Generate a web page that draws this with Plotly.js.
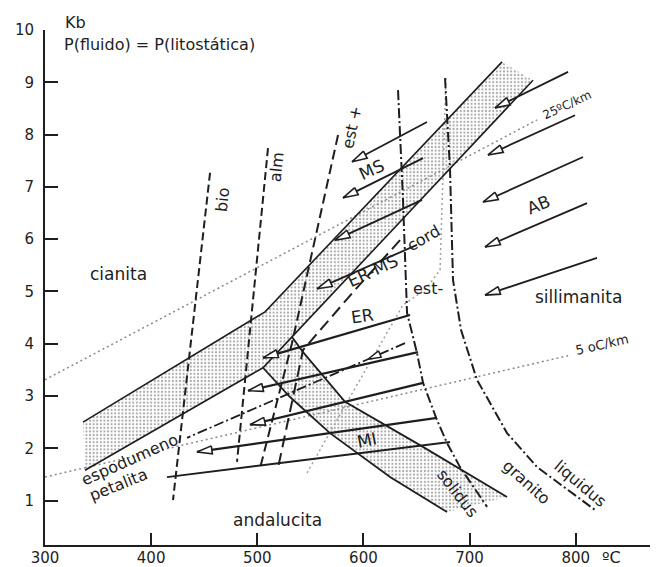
<!DOCTYPE html>
<html><head><meta charset="utf-8">
<script src="https://cdn.plot.ly/plotly-3.0.1.min.js"></script>
<style>html,body{margin:0;padding:0;background:#fff}</style>
</head><body><div id="chart" style="width:656px;height:567px"></div>
<script>
// ---------------- data (T in ºC, P in kb) ----------------
const tickT = [300, 400, 500, 600, 700, 800];
const tickTLabels = ['300', '400', '500', '600', '700', '800'];
const tickP = [1, 2, 3, 4, 5, 6, 7, 8, 9, 10];

// stippled pegmatite field
const bandUpperT = [335.8, 507.3, 730.6];
const bandUpperP = [2.50, 4.61, 9.39];
const bandLowerT = [337.7, 505.4, 532.7, 759.8];
const bandLowerP = [1.58, 3.54, 4.13, 9.04];
const miUpperT = [532.7, 543.1, 582.7, 653.3, 735.3];
const miUpperP = [4.13, 3.84, 2.89, 2.06, 1.07];
const miLowerT = [505.4, 530.8, 568.5, 625.1, 678.8];
const miLowerP = [3.54, 2.98, 2.29, 1.45, 0.78];

// dashed reaction curves
const bioT = [455.5, 420.6];
const bioP = [7.27, 1.01];
const almT = [510.1, 480.9];
const almP = [7.74, 1.74];
const estPlusT = [576.1, 532.7, 502.6];
const estPlusP = [7.99, 4.01, 1.62];
const cordT = [634.5, 592.1, 543.1, 519.5];
const cordP = [5.98, 5.03, 3.88, 1.62];
const estMinusT = [677.8, 675.0, 672.2, 658.0, 637.3, 587.4, 546.9];
const estMinusP = [9.08, 7.13, 5.41, 5.03, 4.74, 2.98, 1.53];

// granite solidus / liquidus
const solidusT = [632.6, 637.3, 641.1, 650.5, 656.2, 669.3, 678.8, 691.0, 716.5];
const solidusP = [8.85, 6.75, 4.59, 3.82, 3.25, 2.54, 2.10, 1.64, 0.88];
const liquidusT = [676.9, 681.6, 684.4, 692.0, 707.0, 735.3, 763.6, 818.2];
const liquidusP = [9.08, 7.32, 5.22, 4.26, 3.31, 2.29, 1.64, 0.82];

// geotherms
const geo25T = [300, 763.6];
const geo25P = [3.31, 8.28];
const geo5T = [300, 794.7];
const geo5P = [1.45, 3.78];

// P-T paths (arrows) : start -> end (arrow tip)
const arrowStartT = [792.8, 799.4, 806.9, 810.7, 820.1, 659.9, 656.2, 655.2, 650.5, 643.9, 651.4, 656.2, 669.3];
const arrowStartP = [9.20, 8.37, 7.57, 6.69, 5.64, 8.24, 7.55, 6.75, 5.89, 4.55, 3.84, 3.25, 2.58];
const arrowEndT   = [724.0, 717.4, 712.7, 714.6, 714.6, 589.3, 580.8, 573.2, 556.3, 505.4, 491.3, 493.2, 443.2];
const arrowEndP   = [8.51, 7.61, 6.71, 5.85, 4.93, 7.48, 6.79, 5.98, 5.05, 3.73, 3.10, 2.45, 1.93];
const baseLineT = [681.6, 414.9];
const baseLineP = [2.12, 1.45];
const dashPathT = [639.2, 433.8];
const dashPathP = [4.01, 2.20];

// ---------------- geometry helpers ----------------
const X0 = 300, X1 = 870, Y0 = 0.15, Y1 = 10.0;
const L = 45, R = 650, TOP = 30, BOT = 545;
function toPx(T, P) { return [L + (T - X0) / (X1 - X0) * (R - L), BOT - (P - Y0) / (Y1 - Y0) * (BOT - TOP)]; }
function toData(x, y) { return [X0 + (x - L) / (R - L) * (X1 - X0), Y0 + (BOT - y) / (BOT - TOP) * (Y1 - Y0)]; }
function headAt(sT, sP, eT, eP, len, half) {
  const s = toPx(sT, sP), e = toPx(eT, eP);
  let dx = e[0] - s[0], dy = e[1] - s[1];
  const d = Math.hypot(dx, dy); dx /= d; dy /= d;
  const bx = e[0] - dx * len, by = e[1] - dy * len;
  const nx = -dy, ny = dx;
  const pts = [[bx + nx * half, by + ny * half], [e[0], e[1]], [bx - nx * half, by - ny * half], [bx + nx * half, by + ny * half]];
  const dd = pts.map(p => toData(p[0], p[1]));
  return { x: dd.map(p => p[0]), y: dd.map(p => p[1]) };
}

const INK = '#1e1e1e';
const traces = [];

// stippled field polygon
const polyT = [].concat(bandUpperT, bandLowerT.slice(2).reverse(), miUpperT.slice(1), miLowerT.slice().reverse(), [bandLowerT[0], bandUpperT[0]]);
const polyP = [].concat(bandUpperP, bandLowerP.slice(2).reverse(), miUpperP.slice(1), miLowerP.slice().reverse(), [bandLowerP[0], bandUpperP[0]]);
traces.push({ x: polyT, y: polyP, mode: 'lines', fill: 'toself', line: { width: 0, color: 'rgba(0,0,0,0)' },
  fillcolor: 'rgba(0,0,0,0)', fillpattern: { shape: '.', fgcolor: '#a8a8a8', bgcolor: '#ffffff', size: 3.6, solidity: 0.28 }, hoverinfo: 'skip' });

function line(x, y, color, width, dash) {
  traces.push({ x: x, y: y, mode: 'lines', line: { color: color, width: width, dash: dash || 'solid' }, hoverinfo: 'skip' });
}
// geotherms (dotted)
line(geo25T, geo25P, '#8a8a8a', 1.5, '2px,3px');
line(geo5T, geo5P, '#8a8a8a', 1.5, '2px,3px');
line(estMinusT, estMinusP, '#a0a0a0', 1.5, '2px,3px');

// band outlines
line(bandUpperT, bandUpperP, INK, 1.6);
line(bandLowerT, bandLowerP, INK, 1.6);
line(miUpperT, miUpperP, INK, 1.8);
line(miLowerT, miLowerP, INK, 1.8);

// dashed curves
line(bioT, bioP, INK, 2, '8px,4px');
line(almT, almP, INK, 2, '8px,4px');
line(estPlusT, estPlusP, INK, 2, '10px,5px');
line(cordT, cordP, INK, 2, '12px,6px');
line(solidusT, solidusP, INK, 2, '10px,3px,2px,3px');
line(liquidusT, liquidusP, INK, 2, '10px,3px,2px,3px');
line(dashPathT, dashPathP, INK, 1.8, '10px,3px,2px,3px');

// arrows
for (let i = 0; i < arrowStartT.length; i++) {
  line([arrowStartT[i], arrowEndT[i]], [arrowStartP[i], arrowEndP[i]], INK, i >= 9 ? 2.2 : 1.8);
}
line(baseLineT, baseLineP, INK, 1.8);
for (let i = 0; i < arrowStartT.length; i++) {
  const h = headAt(arrowStartT[i], arrowStartP[i], arrowEndT[i], arrowEndP[i], 15, 4);
  traces.push({ x: h.x, y: h.y, mode: 'lines', fill: 'toself', fillcolor: '#ffffff', line: { color: INK, width: 1.6 }, hoverinfo: 'skip' });
}
// head on dash-dot path (placed partway along)
{
  const f = 0.17;
  const hT = dashPathT[0] + f * (dashPathT[1] - dashPathT[0]);
  const hP = dashPathP[0] + f * (dashPathP[1] - dashPathP[0]);
  const h = headAt(dashPathT[0], dashPathP[0], hT, hP, 13, 3.5);
  traces.push({ x: h.x, y: h.y, mode: 'lines', fill: 'toself', fillcolor: '#ffffff', line: { color: INK, width: 1.4 }, hoverinfo: 'skip' });
}

const FONT = 'DejaVu Sans, Arial, sans-serif';
function lab(text, x, y, angle, size) {
  return { text: text, x: x, y: y, xref: 'x', yref: 'y', showarrow: false, textangle: angle,
    xanchor: 'center', yanchor: 'middle', font: { family: FONT, size: size || 16, color: INK } };
}
const annotations = [
  lab('cianita', 368.8, 5.33, 0, 17),
  lab('sillimanita', 802.2, 4.89, 0, 17),
  lab('andalucita', 518.6, 0.63, 0, 17),
  lab('AB', 764.5, 6.65, -22, 17),
  lab('MS', 607.2, 7.32, -25, 17),
  lab('ER-MS', 608.1, 5.39, -25, 17),
  lab('cord', 656.2, 6.02, -30, 16),
  lab('ER', 598.7, 4.53, -8, 17),
  lab('est-', 660.9, 5.05, 0, 16),
  lab('MI', 603.4, 2.16, -12, 17),
  lab('solidus', 689.1, 1.14, 52, 16),
  lab('granito', 754.1, 1.35, 42, 16),
  lab('liquidus', 804.1, 1.32, 40, 16),
  lab('espodumeno', 380.1, 1.78, -24, 16),
  lab('petalita', 369.7, 1.30, -22, 16),
  lab('25ºC/km', 791.8, 8.57, -25, 12),
  lab('5 oC/km', 824.8, 3.98, -13, 13),
  lab('est +', 589.3, 8.13, -78, 16),
  lab('bio', 467.7, 6.75, -84, 16),
  lab('alm', 518.6, 7.38, -84, 16),
  { text: 'Kb', xref: 'paper', yref: 'paper', x: 0.03, y: 1.0136, xanchor: 'left', yanchor: 'middle', showarrow: false, font: { family: FONT, size: 16, color: INK } },
  { text: 'P(fluido) = P(litostática)', xref: 'paper', yref: 'paper', x: 0.028, y: 0.9728, xanchor: 'left', yanchor: 'middle', showarrow: false, font: { family: FONT, size: 16, color: INK } },
  { text: 'ºC', xref: 'paper', yref: 'paper', x: 0.937, y: -0.0235, xanchor: 'center', yanchor: 'middle', showarrow: false, font: { family: FONT, size: 16, color: INK } }
];

const layout = {
  width: 656, height: 567,
  margin: { l: L, r: 656 - R, t: TOP, b: 567 - BOT, pad: 0 },
  paper_bgcolor: '#ffffff', plot_bgcolor: '#ffffff',
  showlegend: false,
  xaxis: { range: [X0, X1], showline: true, linecolor: INK, linewidth: 2, ticks: 'inside', ticklen: 12, tickwidth: 2, tickcolor: INK,
    tickvals: tickT, ticktext: tickTLabels, showgrid: false, zeroline: false, tickfont: { family: FONT, size: 15, color: INK }, ticklabelstandoff: -2 },
  yaxis: { range: [Y0, Y1], showline: true, linecolor: INK, linewidth: 2, ticks: 'inside', ticklen: 13, tickwidth: 2, tickcolor: INK,
    tickvals: tickP, showgrid: false, zeroline: false, tickfont: { family: FONT, size: 15, color: INK }, ticklabelstandoff: 6 },
  annotations: annotations
};
Plotly.newPlot('chart', traces, layout, { staticPlot: true, displayModeBar: false });
</script></body></html>
